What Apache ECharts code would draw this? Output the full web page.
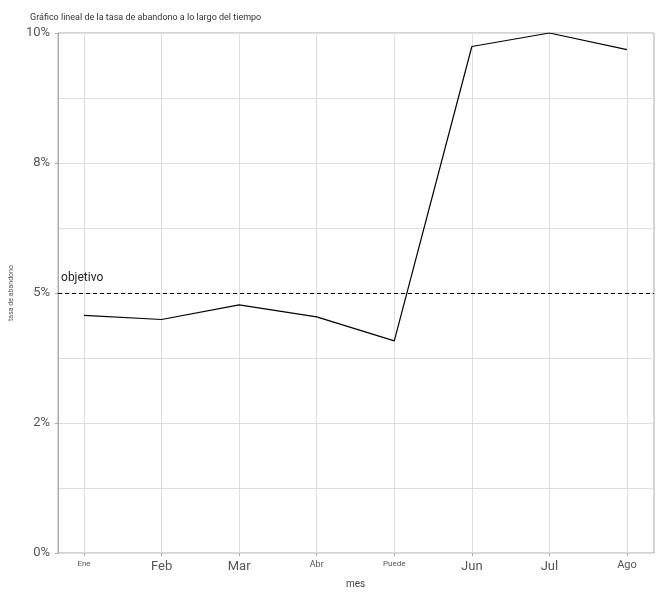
<!DOCTYPE html>
<html>
<head>
<meta charset="utf-8">
<script src="https://cdn.jsdelivr.net/npm/echarts@6/dist/echarts.min.js"></script>
<style>
html, body { margin: 0; padding: 0; background: #fff; }
#chart { width: 662px; height: 598px; }
</style>
</head>
<body>
<div id="chart"></div>
<script>
// datos
var months = ['Ene', 'Feb', 'Mar', 'Abr', 'Puede', 'Jun', 'Jul', 'Ago'];
var churnRate = [4.57, 4.49, 4.77, 4.54, 4.08, 9.74, 10.0, 9.68];
var targetRate = 5;
var yTickValues = [0, 2.5, 5, 7.5, 10];
var yTickLabels = ['0%', '2%', '5%', '8%', '10%'];

// tamaños de las etiquetas del eje x (como en la imagen)
var monthFont = { Ene: 8, Feb: 13, Mar: 13, Abr: 9, Puede: 8, Jun: 13, Jul: 13, Ago: 11 };
var rich = {};
months.forEach(function (m, i) {
    rich['m' + i] = { fontSize: monthFont[m], color: '#555', fontFamily: 'Roboto' };
});

var gridColor = '#dedede';
var borderColor = '#aaaaaa';

option = {
    backgroundColor: '#ffffff',
    animation: false,
    textStyle: { fontFamily: 'Roboto' },
    title: {
        text: 'Gráfico lineal de la tasa de abandono a lo largo del tiempo',
        left: 25,
        top: 8,
        textStyle: { fontSize: 9, fontWeight: 'normal', color: '#333', fontFamily: 'Roboto' }
    },
    grid: [
        { left: 57, right: 8, top: 33, bottom: 45, show: true, borderColor: borderColor, borderWidth: 1 },
        { left: 84, right: 35, top: 33, bottom: 45 }
    ],
    xAxis: [{
        type: 'value', gridIndex: 0, min: 0, max: 1, show: false
    }, {
        type: 'category',
        gridIndex: 1,
        data: months,
        boundaryGap: false,
        name: 'mes',
        nameLocation: 'middle',
        nameGap: 26,
        nameTextStyle: { fontSize: 10, color: '#444' },
        axisLine: { show: false },
        axisTick: { show: true, interval: 0, length: 3, lineStyle: { color: borderColor } },
        axisLabel: {
            interval: 0,
            margin: 7,
            formatter: function (v, i) { return '{m' + i + '|' + v + '}'; },
            rich: rich
        },
        splitLine: { show: true, interval: 0, lineStyle: { color: gridColor } }
    }],
    yAxis: [{
        type: 'value',
        gridIndex: 0,
        min: 0,
        max: 10,
        interval: 2.5,
        name: 'tasa de abandono',
        nameLocation: 'middle',
        nameGap: 40,
        nameTextStyle: { fontSize: 7, color: '#555' },
        axisLine: { show: true, lineStyle: { color: borderColor } },
        axisTick: { show: true, length: 3, lineStyle: { color: borderColor } },
        axisLabel: {
            fontSize: 13,
            color: '#555',
            margin: 8,
            formatter: function (v) {
                var k = yTickValues.indexOf(v);
                return k >= 0 ? yTickLabels[k] : '';
            }
        },
        splitLine: { show: true, lineStyle: { color: gridColor } },
        minorTick: { show: false, splitNumber: 2 },
        minorSplitLine: { show: true, lineStyle: { color: gridColor } }
    }, {
        type: 'value', gridIndex: 1, min: 0, max: 10, show: false,
        splitLine: { show: false }
    }],
    series: [{
        name: 'objetivo',
        type: 'line',
        xAxisIndex: 0,
        yAxisIndex: 0,
        data: [],
        markLine: {
            silent: true,
            symbol: 'none',
            lineStyle: { type: [4, 3], color: '#000', width: 1 },
            label: {
                show: true,
                position: 'insideStartTop',
                formatter: 'objetivo',
                fontSize: 12,
                color: '#222',
                distance: [3, 9]
            },
            data: [{ yAxis: targetRate }]
        }
    }, {
        name: 'tasa de abandono',
        type: 'line',
        xAxisIndex: 1,
        yAxisIndex: 1,
        data: churnRate,
        showSymbol: false,
        lineStyle: { color: '#000', width: 1.2 }
    }]
};

var chart = echarts.init(document.getElementById('chart'));
chart.setOption(option);
</script>
</body>
</html>
